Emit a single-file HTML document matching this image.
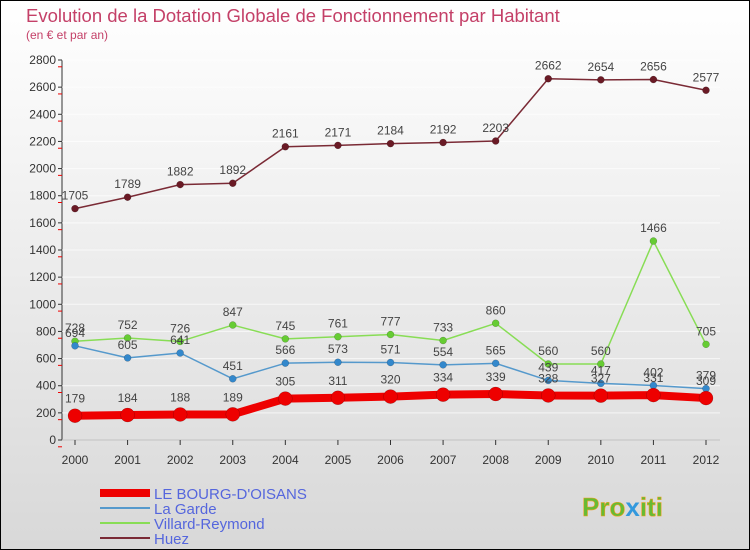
<!DOCTYPE html>
<html><head><meta charset="utf-8"><style>
body{margin:0}
svg{display:block;font-family:"Liberation Sans",sans-serif}
</style></head><body>
<svg width="750" height="550" viewBox="0 0 750 550">
<defs><linearGradient id="bg" x1="0" y1="0" x2="0" y2="1"><stop offset="0" stop-color="#ffffff"/><stop offset="1" stop-color="#d8d8d8"/></linearGradient></defs>
<rect x="0.5" y="0.5" width="749" height="549" fill="url(#bg)" stroke="#000"/>
<text x="26" y="22" font-size="18.5" fill="#c44068">Evolution de la Dotation Globale de Fonctionnement par Habitant</text>
<text x="26" y="39" font-size="12" fill="#c44068">(en € et par an)</text>
<g id="axes"></g>
<g id="series"></g>
<g id="legend"></g>
<text x="582" y="516" font-size="26" font-weight="bold" fill="#66bb33" stroke="#f0a020" stroke-width="0.6">Pro<tspan fill="#3399dd" stroke="none">x</tspan>iti</text>
</svg>
<script>
const years=[2000,2001,2002,2003,2004,2005,2006,2007,2008,2009,2010,2011,2012];
const bourg=[179,184,188,189,305,311,320,334,339,328,327,331,309];
const garde=[694,605,641,451,566,573,571,554,565,439,417,402,379];
const villard=[728,752,726,847,745,761,777,733,860,560,560,1466,705];
const huez=[1705,1789,1882,1892,2161,2171,2184,2192,2203,2662,2654,2656,2577];
const yTicks=[0,200,400,600,800,1000,1200,1400,1600,1800,2000,2200,2400,2600,2800];
const NS="http://www.w3.org/2000/svg";
const xS=i=>75+i*(706-75)/12;
const yS=v=>440-v*(380/2800);
function mk(t,a,p){const e=document.createElementNS(NS,t);for(const k in a)e.setAttribute(k,a[k]);p.appendChild(e);return e;}
const ax=document.getElementById('axes');
let l=mk('line',{x1:62,y1:60,x2:62,y2:440,stroke:'#333'},ax);


l=mk('line',{x1:62,y1:440,x2:720,y2:440,stroke:'#333'},ax);


yTicks.forEach(v=>{const y=yS(v);
 mk('line',{x1:62,x2:720,y1:y,y2:y,stroke:'#fff','stroke-width':1,opacity:0.7},ax);
 mk('line',{x1:58,x2:62,y1:y,y2:y,stroke:'#333'},ax);
 mk('line',{x1:58,x2:62,y1:y+6.8,y2:y+6.8,stroke:'#e00'},ax);
 const t=mk('text',{x:56,y:y+4,'font-size':12,'text-anchor':'end',fill:'#333'},ax);t.textContent=v;
 
 });
years.forEach((yr,i)=>{const x=xS(i);
 mk('line',{x1:x,x2:x,y1:440,y2:445,stroke:'#333'},ax);
 const t=mk('text',{x:x,y:464,'font-size':12,'text-anchor':'middle',fill:'#333'},ax);t.textContent=yr;
 
 });
const sg=document.getElementById('series');
function series(d,col,dot,w,r,name,lbl){
 const g=mk('g',{},sg);
 
 
 const p=mk('polyline',{points:d.map((v,i)=>xS(i)+','+yS(v)).join(' '),fill:'none',stroke:col,'stroke-width':w,'stroke-linejoin':'round'},g);
 
 
 d.forEach((v,i)=>{const c=mk('circle',{cx:xS(i),cy:yS(v),r:r,fill:dot,stroke:'rgba(0,0,0,0.3)','stroke-width':0.5},g);
  
  
  const t=mk('text',{x:xS(i),y:yS(v)-9-(lbl||0),'font-size':12,'text-anchor':'middle',fill:'#444'},g);t.textContent=v;
  
  });
}
series(huez,'#7a2a35','#6a1a25',1.5,3.5,'huez');
series(villard,'#88dd55','#66cc33',1.5,3.5,'villard-reymond');
series(garde,'#5599cc','#3388cc',1.5,3.5,'la-garde');
series(bourg,'#ee0000','#ee0000',8,7,'le-bourg-doisans',4);
const lg=document.getElementById('legend');
const items=[['LE BOURG-D\'OISANS','#ee0000',8],['La Garde','#5599cc',2],['Villard-Reymond','#88dd55',2],['Huez','#7a2a35',2]];
items.forEach((it,i)=>{const y=493+i*15;
 const g=mk('g',{},lg);
 
 
 mk('line',{x1:100,x2:150,y1:y,y2:y,stroke:it[1],'stroke-width':it[2]},g);
 const t=mk('text',{x:154,y:y+6,'font-size':15,fill:'#5566dd'},g);t.textContent=it[0];});
</script>
</body></html>
